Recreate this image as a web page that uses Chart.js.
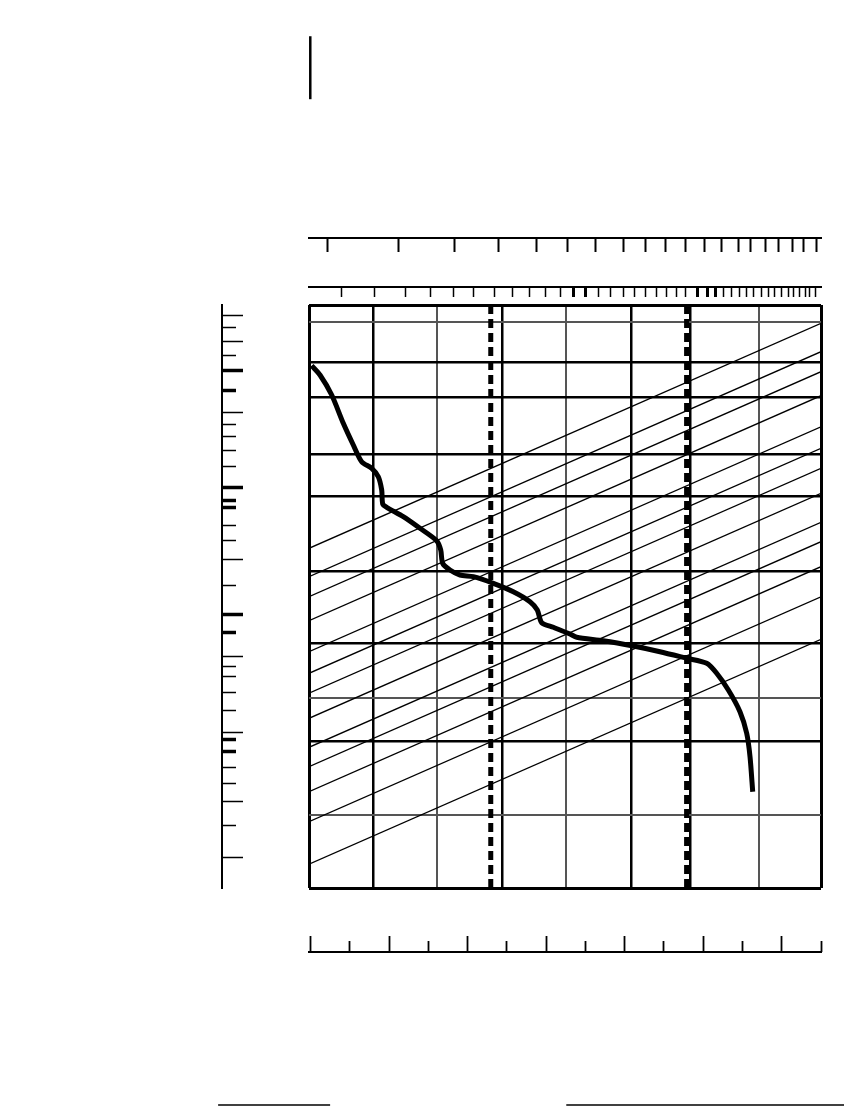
<!DOCTYPE html>
<html lang="en">
<head>
    <meta charset="UTF-8">
    <title>Nomogram</title>
    <style>
        body { margin: 0; background: #fff; }
        canvas { display: block; }
    </style>
    <script src="https://cdn.jsdelivr.net/npm/chart.js@4"></script>
</head>
<body>
<canvas id="nomogram" width="848" height="1106"></canvas>
<script>
    // frame units: x 0..8 (columns), y 0..100 (bottom to top)
    const colX = [0, 1, 2, 3.02, 4.01, 5.03, 5.96, 7.03, 8];
    const colXLight = [2, 4.01, 7.03];
    const rowY = [0, 12.52, 25.09, 32.54, 41.97, 54.37, 67.12, 74.39, 84.22, 90.22, 97.13, 100];
    const rowYLight = [12.52, 32.54, 97.13];

    // dashed limit lines
    const limitX = [2.84, 5.9];

    // main curve
    const curveX = [0.042, 0.172, 0.355, 0.536, 0.692, 0.823, 0.98, 1.083, 1.136, 1.152, 1.214, 1.473,
        1.734, 1.995, 2.058, 2.089, 2.203, 2.359, 2.567, 2.88, 3.192, 3.453, 3.567, 3.636, 3.817,
        4.078, 4.183, 4.598, 5.067, 5.484, 5.902, 6.214, 6.37, 6.552, 6.734, 6.839, 6.891, 6.933];
    const curveY = [89.59, 87.99, 84.56, 79.71, 75.99, 73.12, 71.99, 70.55, 68.27, 65.87, 65.3, 63.69,
        61.7, 59.57, 57.98, 55.69, 54.55, 53.69, 53.4, 52.26, 50.82, 49.11, 47.68, 45.51, 44.72,
        43.57, 43.0, 42.42, 41.51, 40.53, 39.4, 38.54, 36.83, 33.96, 30.24, 26.54, 22.52, 16.52];

    // parallel slanted lines: value at left edge and at right edge
    const diagLeft = [58.27, 53.4, 49.97, 45.85, 40.53, 36.83, 33.4, 29.11, 24.13, 20.81, 16.52, 11.37, 4.07];
    const diagRight = [96.86, 91.99, 88.56, 84.44, 79.12, 75.42, 71.99, 67.7, 62.72, 59.4, 55.11, 49.96, 42.66];

    // upper rulers
    const topRulerA = [0.292, 1.406, 2.277, 2.958, 3.547, 4.041, 4.478, 4.916, 5.25, 5.57, 5.875, 6.183,
        6.447, 6.711, 6.902, 7.133, 7.339, 7.55, 7.725, 7.925];
    const topRulerB = [0.509, 1.02, 1.511, 1.891, 2.25, 2.578, 2.906, 3.184, 3.448, 3.697, 3.922, 4.134,
        4.32, 4.531, 4.716, 4.911, 5.086, 5.255, 5.428, 5.586, 5.745, 5.875, 6.078, 6.219, 6.352,
        6.484, 6.606, 6.719, 6.838, 6.948, 7.063, 7.172, 7.277, 7.381, 7.488, 7.578, 7.661, 7.75,
        7.828, 7.909];
    const topRulerBBold = [4.134, 4.32, 6.078, 6.219, 6.352];

    // left ruler
    const leftLong = [98.28, 93.77, 88.73, 81.6, 68.66, 56.43, 46.83, 39.74, 26.71, 14.87, 5.27];
    const leftShort = [96.17, 91.37, 85.3, 79.54, 77.48, 75.08, 72.38, 66.55, 65.23, 62.21, 59.52, 51.92,
        43.79, 38.03, 36.31, 33.57, 30.53, 25.39, 23.33, 20.7, 17.96, 10.75];
    const leftBold = [88.73, 85.3, 68.66, 66.55, 65.23, 46.83, 43.79, 25.39, 23.33];

    // bottom ruler (own units)
    const bottomLong = [0, 2, 4, 6, 8, 10, 12];
    const bottomShort = [1, 3, 5, 7, 9, 11, 13];

    // loose rules outside the frame
    const headRuleX = [0.02, 0.02];
    const headRuleY = [135.3, 146.1];
    const footRuleAX = [-1.42, 0.33];
    const footRuleBX = [4.02, 8.36];
    const footRuleY = -37.2;

    function pinTicks(values) {
        return function(scale) {
            scale.ticks = values.map(function(v) { return { value: v }; });
        };
    }

    function ruler(axis, min, max, at, values, length, width, showBorder) {
        return {
            axis: axis,
            type: 'linear',
            min: min,
            max: max,
            position: at,
            afterBuildTicks: pinTicks(values),
            ticks: { display: false },
            grid: {
                drawOnChartArea: false,
                drawTicks: true,
                tickLength: length,
                tickWidth: width,
                tickColor: '#000'
            },
            border: { display: showBorder, color: '#000', width: 2 }
        };
    }

    const datasets = [];
    datasets.push({
        data: curveX.map(function(x, i) { return { x: x, y: curveY[i] }; }),
        borderColor: '#000',
        borderWidth: 5,
        pointRadius: 0,
        tension: 0.25
    });
    limitX.forEach(function(x) {
        datasets.push({
            data: [{ x: x, y: 0 }, { x: x, y: 100 }],
            borderColor: '#000',
            borderWidth: 5,
            borderDash: [9, 5],
            pointRadius: 0
        });
    });
    diagLeft.forEach(function(v, i) {
        datasets.push({
            data: [{ x: 0, y: v }, { x: 8, y: diagRight[i] }],
            borderColor: '#000',
            borderWidth: 1.3,
            pointRadius: 0
        });
    });
    datasets.push({
        data: headRuleX.map(function(x, i) { return { x: x, y: headRuleY[i] }; }),
        borderColor: '#000', borderWidth: 2.5, pointRadius: 0, clip: false
    });
    [footRuleAX, footRuleBX].forEach(function(xs) {
        datasets.push({
            data: xs.map(function(x) { return { x: x, y: footRuleY }; }),
            borderColor: '#000', borderWidth: 1.5, pointRadius: 0, clip: false
        });
    });

    const scaleX = {
        type: 'linear', min: 0, max: 8,
        position: { y: 0 },
        afterBuildTicks: pinTicks(colX),
        ticks: { display: false },
        border: { display: false },
        grid: {
            drawTicks: false,
            color: function(c) { return colXLight.includes(c.tick.value) ? '#555' : '#000'; },
            lineWidth: function(c) {
                const v = c.tick.value;
                if (v === 0 || v === 8) return 3;
                return colXLight.includes(v) ? 2 : 2.5;
            }
        }
    };
    const scaleY = {
        type: 'linear', min: 0, max: 100,
        position: { x: 0 },
        afterBuildTicks: pinTicks(rowY),
        ticks: { display: false },
        border: { display: false },
        grid: {
            drawTicks: false,
            color: function(c) { return rowYLight.includes(c.tick.value) ? '#555' : '#000'; },
            lineWidth: function(c) {
                const v = c.tick.value;
                if (v === 0 || v === 100) return 3;
                return rowYLight.includes(v) ? 2 : 2.5;
            }
        }
    };

    const boldTick = function(list, bold, thin) {
        return function(c) { return list.includes(c.tick.value) ? bold : thin; };
    };

    const ctx = document.getElementById('nomogram').getContext('2d');
    const nomogram = new Chart(ctx, {
        type: 'line',
        data: { datasets: datasets },
        options: {
            responsive: false,
            animation: false,
            devicePixelRatio: 1,
            layout: { padding: { left: 309, right: 27, top: 305, bottom: 218 } },
            plugins: { legend: { display: false }, tooltip: { enabled: false } },
            scales: {
                x: scaleX,
                y: scaleY,
                xTopA: ruler('x', 0, 8, { y: 111.44 }, topRulerA, 13, 2, true),
                xTopB: ruler('x', 0, 8, { y: 103.14 }, topRulerB, 9,
                    boldTick(topRulerBBold, 3, 1.5), true),
                yLeftLong: ruler('y', 0, 100, { x: -1.355 }, leftLong, -22,
                    boldTick(leftBold, 3.5, 1.5), true),
                yLeftShort: ruler('y', 0, 100, { x: -1.355 }, leftShort, -14,
                    boldTick(leftBold, 3.5, 1.5), false),
                xBottomLong: ruler('x', -0.04, 13, { y: -11.03 }, bottomLong, -17, 1.8, true),
                xBottomShort: ruler('x', -0.04, 13, { y: -11.03 }, bottomShort, -11, 1.8, false)
            }
        }
    });
</script>
</body>
</html>
